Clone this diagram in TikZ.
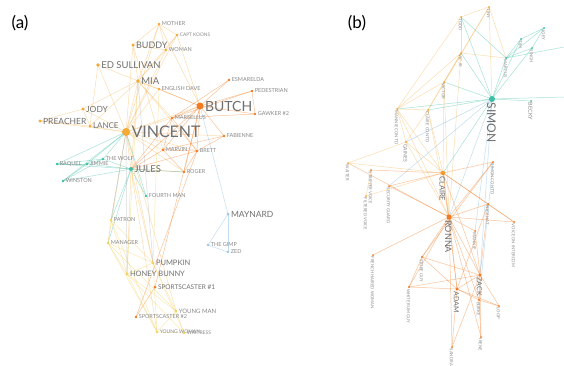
\documentclass[tikz,border=0pt]{standalone}
\usepackage{fontspec}
\setmainfont{Lato}
\usetikzlibrary{backgrounds}
\definecolor{cor}{HTML}{F27B22}
\definecolor{cva}{HTML}{F5A937}
\definecolor{cte}{HTML}{3DBFA5}
\definecolor{clb}{HTML}{9CC8E4}
\definecolor{cpy}{HTML}{F3D25A}
\definecolor{txt}{HTML}{707070}
\definecolor{txs}{HTML}{8A8A8A}
\begin{document}
\begin{tikzpicture}[x=1pt,y=-1pt,
  nd/.style={circle,inner sep=0pt,minimum size=2.6pt},
  ora/.style={nd,fill=cor},
  vaa/.style={nd,fill=cva},
  tea/.style={nd,fill=cte},
  lbl/.style={nd,fill=clb},
  pya/.style={nd,fill=cpy},
  cla/.style={nd,fill=cor!40!cva},
  la/.style={text=txs,font=\fontsize{5.5}{6}\selectfont,inner sep=0.5pt},
  lab/.style={text=txt,inner sep=0.5pt},
  lb/.style={rotate=-90,anchor=west,text=txs,font=\fontsize{4.2}{5}\selectfont,inner sep=0.5pt},
  lbb/.style={rotate=-90,anchor=west,text=txt,inner sep=0.5pt},
  every label/.style={label distance=0.6pt},
  eor/.style={draw=cor,opacity=0.45,line width=0.5pt},
  eva/.style={draw=cva,opacity=0.38,line width=0.5pt},
  ete/.style={draw=cte,opacity=0.45,line width=0.5pt},
  elb/.style={draw=clb,opacity=0.6,line width=0.5pt},
  epy/.style={draw=cpy,opacity=0.45,line width=0.5pt},
  egr/.style={draw=gray,opacity=0.3,line width=0.5pt},
  panel/.style={font=\fontsize{17}{17}\selectfont,text=black}
]
\useasboundingbox (0,0) rectangle (564,365);
\node[panel] (pa) at (20,23) {(a)};
\node[panel] (pb) at (357,23) {(b)};

% ---------- panel (a) ----------
\node[vaa,label={[la]right:MOTHER}] (mother) at (159,24) {};
\node[vaa,label={[la,font=\fontsize{4.8}{5}\selectfont]right:CAPT KOONS}] (captk) at (177,35) {};
\node[vaa,minimum size=3.2pt,label={[lab,font=\fontsize{9}{9}\selectfont]right:BUDDY}] (buddy) at (133,45) {};
\node[vaa,label={[la]right:WOMAN}] (woman) at (166,50) {};
\node[vaa,minimum size=3.6pt,label={[lab,font=\fontsize{9.5}{10}\selectfont]right:ED SULLIVAN}] (edsul) at (98,65) {};
\node[vaa,minimum size=3.6pt,label={[lab,font=\fontsize{9.5}{10}\selectfont]right:MIA}] (mia) at (138,81) {};
\node[vaa,label={[la]right:ENGLISH DAVE}] (engd) at (159,89) {};
\node[ora,label={[la]right:ESMARELDA}] (esm) at (229,80) {};
\node[ora,label={[la]right:PEDESTRIAN}] (ped) at (252,91) {};
\node[ora,minimum size=7pt,label={[lab,font=\fontsize{14}{14}\selectfont]right:BUTCH}] (butch) at (200,106) {};
\node[ora,label={[la]right:GAWKER \#2}] (gawk) at (255,114) {};
\node[vaa,minimum size=3.2pt,label={[lab,font=\fontsize{8.5}{9}\selectfont]right:JODY}] (jody) at (83,109) {};
\node[vaa,minimum size=3.2pt,label={[lab,font=\fontsize{8.5}{9}\selectfont]right:PREACHER}] (preach) at (40,121) {};
\node[vaa,minimum size=3pt,label={[lab,font=\fontsize{8}{9}\selectfont]right:LANCE}] (lance) at (90,126) {};
\node[ora,label={[la]right:MARSELLUS}] (mars) at (172,118) {};
\node[vaa,minimum size=8pt,label={[lab,font=\fontsize{16}{16}\selectfont]right:VINCENT}] (vinc) at (126,132) {};
\node[ora,label={[la]right:FABIENNE}] (fab) at (224,136) {};
\node[ora,label={[la]right:MARVIN}] (marvin) at (163,150) {};
\node[ora,label={[la]right:BRETT}] (brett) at (197,151) {};
\node[tea,label={[la]right:THE WOLF}] (wolf) at (103,159) {};
\node[tea,label={[la]right:RAQUEL}] (raquel) at (57,164) {};
\node[tea,label={[la]right:JIMMIE}] (jimmie) at (87,164) {};
\node[tea,minimum size=4pt,label={[lab,font=\fontsize{9.5}{10}\selectfont]right:JULES}] (jules) at (131,169) {};
\node[ora,label={[la]right:ROGER}] (roger) at (184,172) {};
\node[tea,label={[la]right:WINSTON}] (winston) at (63,181) {};
\node[tea,label={[la]right:FOURTH MAN}] (fourth) at (146,196) {};
\node[lbl,minimum size=3pt,label={[lab,font=\fontsize{8.5}{9}\selectfont]right:MAYNARD}] (maynard) at (228,214) {};
\node[pya,label={[la]right:PATRON}] (patron) at (111,220) {};
\node[pya,label={[la]right:MANAGER}] (manager) at (108,243) {};
\node[lbl,label={[la]right:THE GIMP}] (gimp) at (208,245) {};
\node[lbl,label={[la]right:ZED}] (zed) at (228,252) {};
\node[pya,minimum size=3pt,label={[lab,font=\fontsize{7.5}{8}\selectfont]right:PUMPKIN}] (pumpkin) at (153,263) {};
\node[pya,minimum size=3pt,label={[lab,font=\fontsize{7.5}{8}\selectfont]right:HONEY BUNNY}] (honey) at (127,274) {};
\node[ora,minimum size=3pt,label={[lab,font=\fontsize{6.5}{7}\selectfont]right:SPORTSCASTER \#1}] (sc1) at (155,287) {};
\node[pya,label={[la,font=\fontsize{6}{6}\selectfont]right:YOUNG MAN}] (youngman) at (176,311) {};
\node[ora,label={[la]right:SPORTSCASTER \#2}] (sc2) at (136,317) {};
\node[pya,label={[la,font=\fontsize{5}{6}\selectfont]right:YOUNG WOMAN}] (youngw) at (157,332) {};
\node[pya,label={[la,font=\fontsize{5}{6}\selectfont]right:WAITRESS}] (waitress) at (184,333) {};

% ---------- panel (b) ----------
\node[vaa,minimum size=2pt,label={[lb]-90:TINY}] (b1) at (489,7) {};
\node[vaa,minimum size=2pt,label={[lb]-90:TODD}] (b2) at (461,17) {};
\node[vaa,minimum size=2pt,label={[lb]-90:VIC JR}] (b3) at (461,53) {};
\node[vaa,minimum size=2pt,label={[lb]-90:VICTOR}] (b4) at (444,82) {};
\node[tea,minimum size=2pt,label={[lb]-90:JOEY}] (b5) at (544,28) {};
\node[tea,minimum size=2pt,label={[lb]-90:TIM}] (b6) at (521,39) {};
\node[tea,minimum size=2pt,label={[lb]-90:SINGH}] (b7) at (532,48) {};
\node[tea,minimum size=2pt,label={[lb]-90:MARCUS}] (b8) at (506,58) {};
\node[tea,minimum size=6pt,label={[lbb,font=\fontsize{12}{12}\selectfont]-90:SIMON}] (simon) at (492,99) {};
\node[tea,minimum size=2pt,label={[lb,font=\fontsize{5.5}{6}\selectfont]-90:BECKY}] (becky) at (531,101) {};
\node[vaa,minimum size=2pt,label={[lb]-90:MANNIE CONT'D}] (b9) at (397,109) {};
\node[vaa,minimum size=2pt,label={[lb]-90:CLAIRE CONT'D}] (b10) at (428,110) {};
\node[vaa,minimum size=2.4pt,label={[lb,font=\fontsize{5}{6}\selectfont]-90:GAINES}] (gaines) at (406,142) {};
\node[vaa,minimum size=2pt,label={[lb]-90:WAITER}] (waiter) at (348,163) {};
\node[ora,minimum size=2pt,label={[lb]-90:STRIPPER VOICE}] (b11) at (371,170) {};
\node[ora,minimum size=2pt,label={[lb]-90:SECURITY GUARD}] (b12) at (389,186) {};
\node[vaa,minimum size=2pt,label={[lb]-90:FILTERED VOICE}] (b13) at (366,196) {};
\node[cla,minimum size=4.5pt,label={[lbb,font=\fontsize{7.5}{8}\selectfont]-90:CLAIRE}] (claire) at (443,173) {};
\node[ora,minimum size=5pt,label={[lbb,font=\fontsize{9}{9}\selectfont]-90:RONNA}] (ronna) at (449,217) {};
\node[ora,minimum size=2pt,label={[lb]-90:SIMON CONT'D}] (simonc) at (493,162) {};
\node[ora,minimum size=2pt,label={[lb]-90:NICE HAT}] (b14) at (488,204) {};
\node[ora,minimum size=2pt,label={[lb]-90:VOICE ON INTERCOM}] (voice) at (514,222) {};
\node[ora,minimum size=2pt,label={[lb]-90:MANNIE}] (mannie) at (475,231) {};
\node[ora,minimum size=2pt,label={[lb]-90:FRENCH HAIRED WOMAN}] (french) at (373,255) {};
\node[ora,minimum size=2.4pt,label={[lb]-90:STORE GUY}] (b15) at (422,257) {};
\node[ora,minimum size=2.4pt,label={[lb]-90:WHITE RUM GUY}] (white) at (409,287) {};
\node[ora,minimum size=3.4pt,label={[lbb,font=\fontsize{7}{7}\selectfont]-90:ADAM}] (adam) at (457,289) {};
\node[ora,minimum size=3.4pt,label={[lbb,font=\fontsize{7}{7}\selectfont]-90:ZACK}] (zack) at (480,275) {};
\node[ora,minimum size=2.4pt,label={[lb]-90:BURKE}] (burke) at (479,300) {};
\node[ora,minimum size=2pt,label={[lb]-90:LOOP}] (loop) at (499,306) {};
\node[ora,minimum size=2pt,label={[lb]-90:IRENE}] (irene) at (481,337) {};
\node[ora,minimum size=2pt,label={[lb]-90:SANDRA}] (sandra) at (452,347) {};
\coordinate (re1) at (564,47);
\coordinate (re2) at (564,97);

\begin{scope}[on background layer]
\fill[white] (0,0) rectangle (564,365);
% panel (a) edges
\foreach \a/\b in {vinc/mia,vinc/edsul,vinc/buddy,vinc/mother,vinc/woman,vinc/engd,vinc/jody,vinc/lance,vinc/preach,vinc/butch,vinc/mars,vinc/marvin,vinc/brett,vinc/roger,vinc/fab,vinc/jules,vinc/patron,vinc/manager,vinc/pumpkin,vinc/youngman,vinc/captk,mia/edsul,mia/buddy,mia/mother,mia/woman,mia/captk,mia/engd,mia/lance,mia/jody,mia/butch,mia/mars,mia/brett,mother/buddy,mother/woman,mother/captk,mother/butch,captk/woman,captk/butch,woman/buddy,jody/lance,preach/lance,preach/jody,jules/mia,jules/pumpkin,jules/honey,jules/youngw,edsul/lance,buddy/marvin}
  \draw[eva] (\a.center) -- (\b.center);
\foreach \a/\b in {butch/esm,butch/ped,butch/gawk,butch/mars,butch/fab,butch/engd,butch/marvin,butch/brett,butch/roger,butch/sc1,butch/jules,ped/gawk,ped/mars,mars/gawk,mars/marvin,mars/brett,marvin/brett,marvin/roger,brett/roger,fab/marvin,fab/brett,roger/jules,brett/jules,marvin/jules,sc1/sc2,sc2/brett,mars/jules,esm/mars}
  \draw[eor] (\a.center) -- (\b.center);
\foreach \a/\b in {jules/wolf,jules/jimmie,jules/raquel,jules/winston,jules/fourth,wolf/jimmie,wolf/raquel,jimmie/raquel,winston/wolf,winston/jimmie,vinc/wolf,vinc/jimmie,vinc/raquel,vinc/winston,jules/roger,jules/patron,jules/manager,fourth/vinc}
  \draw[ete] (\a.center) -- (\b.center);
\foreach \a/\b in {maynard/gimp,maynard/zed,gimp/zed,maynard/butch,vinc/patron}
  \draw[elb] (\a.center) -- (\b.center);
\foreach \a/\b in {patron/manager,patron/pumpkin,patron/honey,manager/pumpkin,manager/honey,manager/youngw,manager/youngman,pumpkin/honey,pumpkin/youngw,pumpkin/waitress,pumpkin/youngman,honey/youngman,honey/youngw,honey/waitress,youngman/youngw,youngman/waitress,youngw/waitress,patron/youngw,mia/honey,engd/pumpkin}
  \draw[epy] (\a.center) -- (\b.center);
\foreach \a/\b in {vinc/honey,mia/pumpkin}
  \draw[egr] (\a.center) -- (\b.center);
% panel (b) edges
\foreach \a/\b in {b1/b2,b1/b4,b1/simon,b1/b8,b1/b10,b2/b3,b2/b9,b3/b8,b3/b4,b3/b9,b4/b9,b4/b10,b4/claire,b9/b10,b9/gaines,b10/gaines,b9/claire,b10/claire,gaines/claire,waiter/claire,waiter/gaines,b13/b11,b13/claire,b10/ronna,b9/ronna,gaines/ronna,b4/ronna,b3/ronna}
  \draw[eva] (\a.center) -- (\b.center);
\foreach \a/\b in {simon/b8,simon/b6,simon/b7,simon/b2,simon/b3,simon/b4,simon/b9,simon/b10,simon/claire,simon/re2,b8/b5,b8/b6,b8/b7,b6/b5,b7/b5,b8/re1,b2/b8,simon/becky}
  \draw[ete] (\a.center) -- (\b.center);
\foreach \a/\b in {simon/ronna,simon/zack,simon/mannie,gaines/simon,simon/b12,simonc/burke}
  \draw[elb] (\a.center) -- (\b.center);
\foreach \a/\b in {claire/ronna,claire/b14,claire/voice,claire/zack,claire/adam,claire/b11,claire/b12,ronna/adam,ronna/zack,ronna/b15,ronna/white,ronna/french,ronna/b14,ronna/voice,ronna/mannie,ronna/burke,ronna/irene,ronna/sandra,ronna/simonc,ronna/waiter,ronna/b12,adam/zack,adam/white,adam/b15,adam/burke,adam/loop,adam/sandra,adam/b14,zack/white,zack/b15,zack/burke,zack/loop,zack/irene,zack/sandra,burke/loop,burke/irene,b14/voice,simonc/b15,b15/white,b14/zack,mannie/zack,simonc/claire}
  \draw[eor] (\a.center) -- (\b.center);
\end{scope}
\end{tikzpicture}
\end{document}
